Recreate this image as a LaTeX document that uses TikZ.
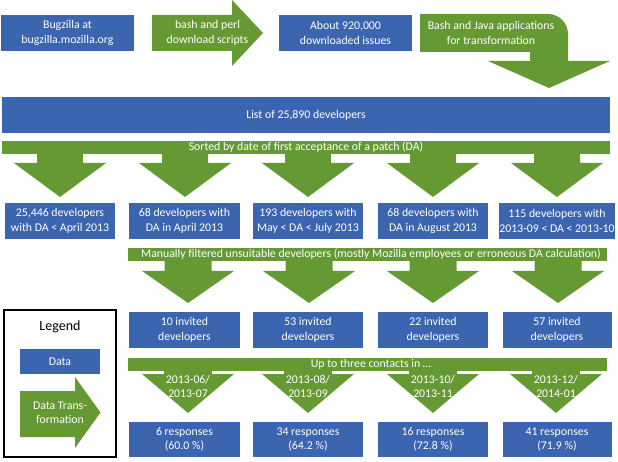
\documentclass[tikz,border=0pt]{standalone}
\usepackage{fontspec}
\setmainfont{Carlito}
\definecolor{dblue}{RGB}{59,101,174}
\definecolor{tgreen}{RGB}{101,153,52}
\newcommand{\dfont}{\fontsize{11.8}{14.5}\selectfont}
\tikzset{
  databox/.style={fill=dblue, text=white, inner sep=0pt, align=center, font=\dfont},
  greenshape/.style={fill=tgreen, draw=none},
  greentext/.style={text=white, inner sep=0pt, align=center, font=\dfont},
}
\begin{document}
\begin{tikzpicture}[x=1pt,y=-1pt]
\useasboundingbox (0,0) rectangle (618,462);

% Row 1
\node[databox, minimum width=133pt, minimum height=36pt] (bugzilla) at (67.5,33) {Bugzilla at\\bugzilla.mozilla.org};
\fill[greenshape] (152,15) -- (232,15) -- (232,0) -- (263,33) -- (232,66) -- (232,51) -- (152,51) -- cycle;
\node[greentext] (bash) at (207.5,33) {bash and perl\\download scripts};
\node[databox, minimum width=133pt, minimum height=36pt] (issues) at (345.5,33) {About 920,000\\downloaded issues};
\fill[greenshape] (420,14) -- (548,14) .. controls (559,14) and (568,23) .. (568,34) -- (568,61) -- (610,61) -- (549,88) -- (488,61) -- (530,61) -- (530,52) -- (420,52) -- cycle;
\node[greentext] (java) at (491,33) {Bash and Java applications\\for transformation};

% Row 2
\node[databox, minimum width=608pt, minimum height=36pt] (list) at (306,115) {List of 25,890 developers};
\fill[greenshape] (2,141) rectangle (610,154);
\foreach \c in {60,185,308,433,557}{
  \fill[greenshape] (\c-23,153) -- (\c-23,163) -- (\c-46,163) -- (\c,197) -- (\c+46,163) -- (\c+23,163) -- (\c+23,153) -- cycle;
}
\node[greentext] (sorted) at (306,147.5) {Sorted by date of first acceptance of a patch (DA)};

\node[databox, minimum width=110pt, minimum height=36pt] (da1) at (60,221) {25,446 developers\\with DA < April 2013};
\node[databox, minimum width=111pt, minimum height=36pt] (da2) at (184.5,221) {68 developers with\\DA in April 2013};
\node[databox, minimum width=110pt, minimum height=36pt] (da3) at (308,221) {193 developers with\\May < DA < July 2013};
\node[databox, minimum width=110pt, minimum height=36pt] (da4) at (433,221) {68 developers with\\DA in August 2013};
\node[databox, minimum width=109pt, minimum height=36pt] (da5) at (557,221) {115 developers with\\2013-09 < DA < 2013-10};

% Row 3
\fill[greenshape] (128,248) rectangle (607,261);
\foreach \c in {188,309,433,558}{
  \fill[greenshape] (\c-23.5,260) -- (\c-23.5,271) -- (\c-46,271) -- (\c,303) -- (\c+46,271) -- (\c+23.5,271) -- (\c+23.5,260) -- cycle;
}
\node[greentext] (filtered) at (371,254.5) {Manually filtered unsuitable developers (mostly Mozilla employees or erroneous DA calculation)};

\node[databox, minimum width=111pt, minimum height=36pt] (inv1) at (184.5,330) {10 invited\\developers};
\node[databox, minimum width=110pt, minimum height=36pt] (inv2) at (308,330) {53 invited\\developers};
\node[databox, minimum width=110pt, minimum height=36pt] (inv3) at (433,330) {22 invited\\developers};
\node[databox, minimum width=109pt, minimum height=36pt] (inv4) at (557,330) {57 invited\\developers};

% Row 4
\fill[greenshape] (128,358) rectangle (607,371);
\foreach \c in {188,308,433,556}{
  \fill[greenshape] (\c-24,370) -- (\c-24,374) -- (\c-46,374) -- (\c,413) -- (\c+46,374) -- (\c+24,374) -- (\c+24,370) -- cycle;
}
\node[greentext] (per1) at (188,386.5) {2013-06/\\2013-07};
\node[greentext] (per2) at (308,386.5) {2013-08/\\2013-09};
\node[greentext] (per3) at (433,386.5) {2013-10/\\2013-11};
\node[greentext] (per4) at (556,386.5) {2013-12/\\2014-01};
\node[greentext] (contacts) at (371,364.5) {Up to three contacts in \dots};

\node[databox, minimum width=111pt, minimum height=35pt] (res1) at (184.5,439.5) {6 responses\\(60.0 \%)};
\node[databox, minimum width=110pt, minimum height=35pt] (res2) at (308,439.5) {34 responses\\(64.2 \%)};
\node[databox, minimum width=110pt, minimum height=35pt] (res3) at (433,439.5) {16 responses\\(72.8 \%)};
\node[databox, minimum width=109pt, minimum height=35pt] (res4) at (557,439.5) {41 responses\\(71.9 \%)};

% Legend
\draw[line width=1.5pt, black] (4,310) rectangle (116,457);
\node[inner sep=0pt, font=\fontsize{14}{16}\selectfont] (legend) at (60,327) {Legend};
\node[databox, minimum width=80pt, minimum height=25pt] (ldata) at (60,361.5) {Data};
\fill[greenshape] (20,391) -- (75,391) -- (75,377) -- (100.5,412.5) -- (75,448) -- (75,437) -- (20,437) -- cycle;
\node[greentext] (ltrans) at (60,413) {Data Trans-\\formation};
\end{tikzpicture}
\end{document}
